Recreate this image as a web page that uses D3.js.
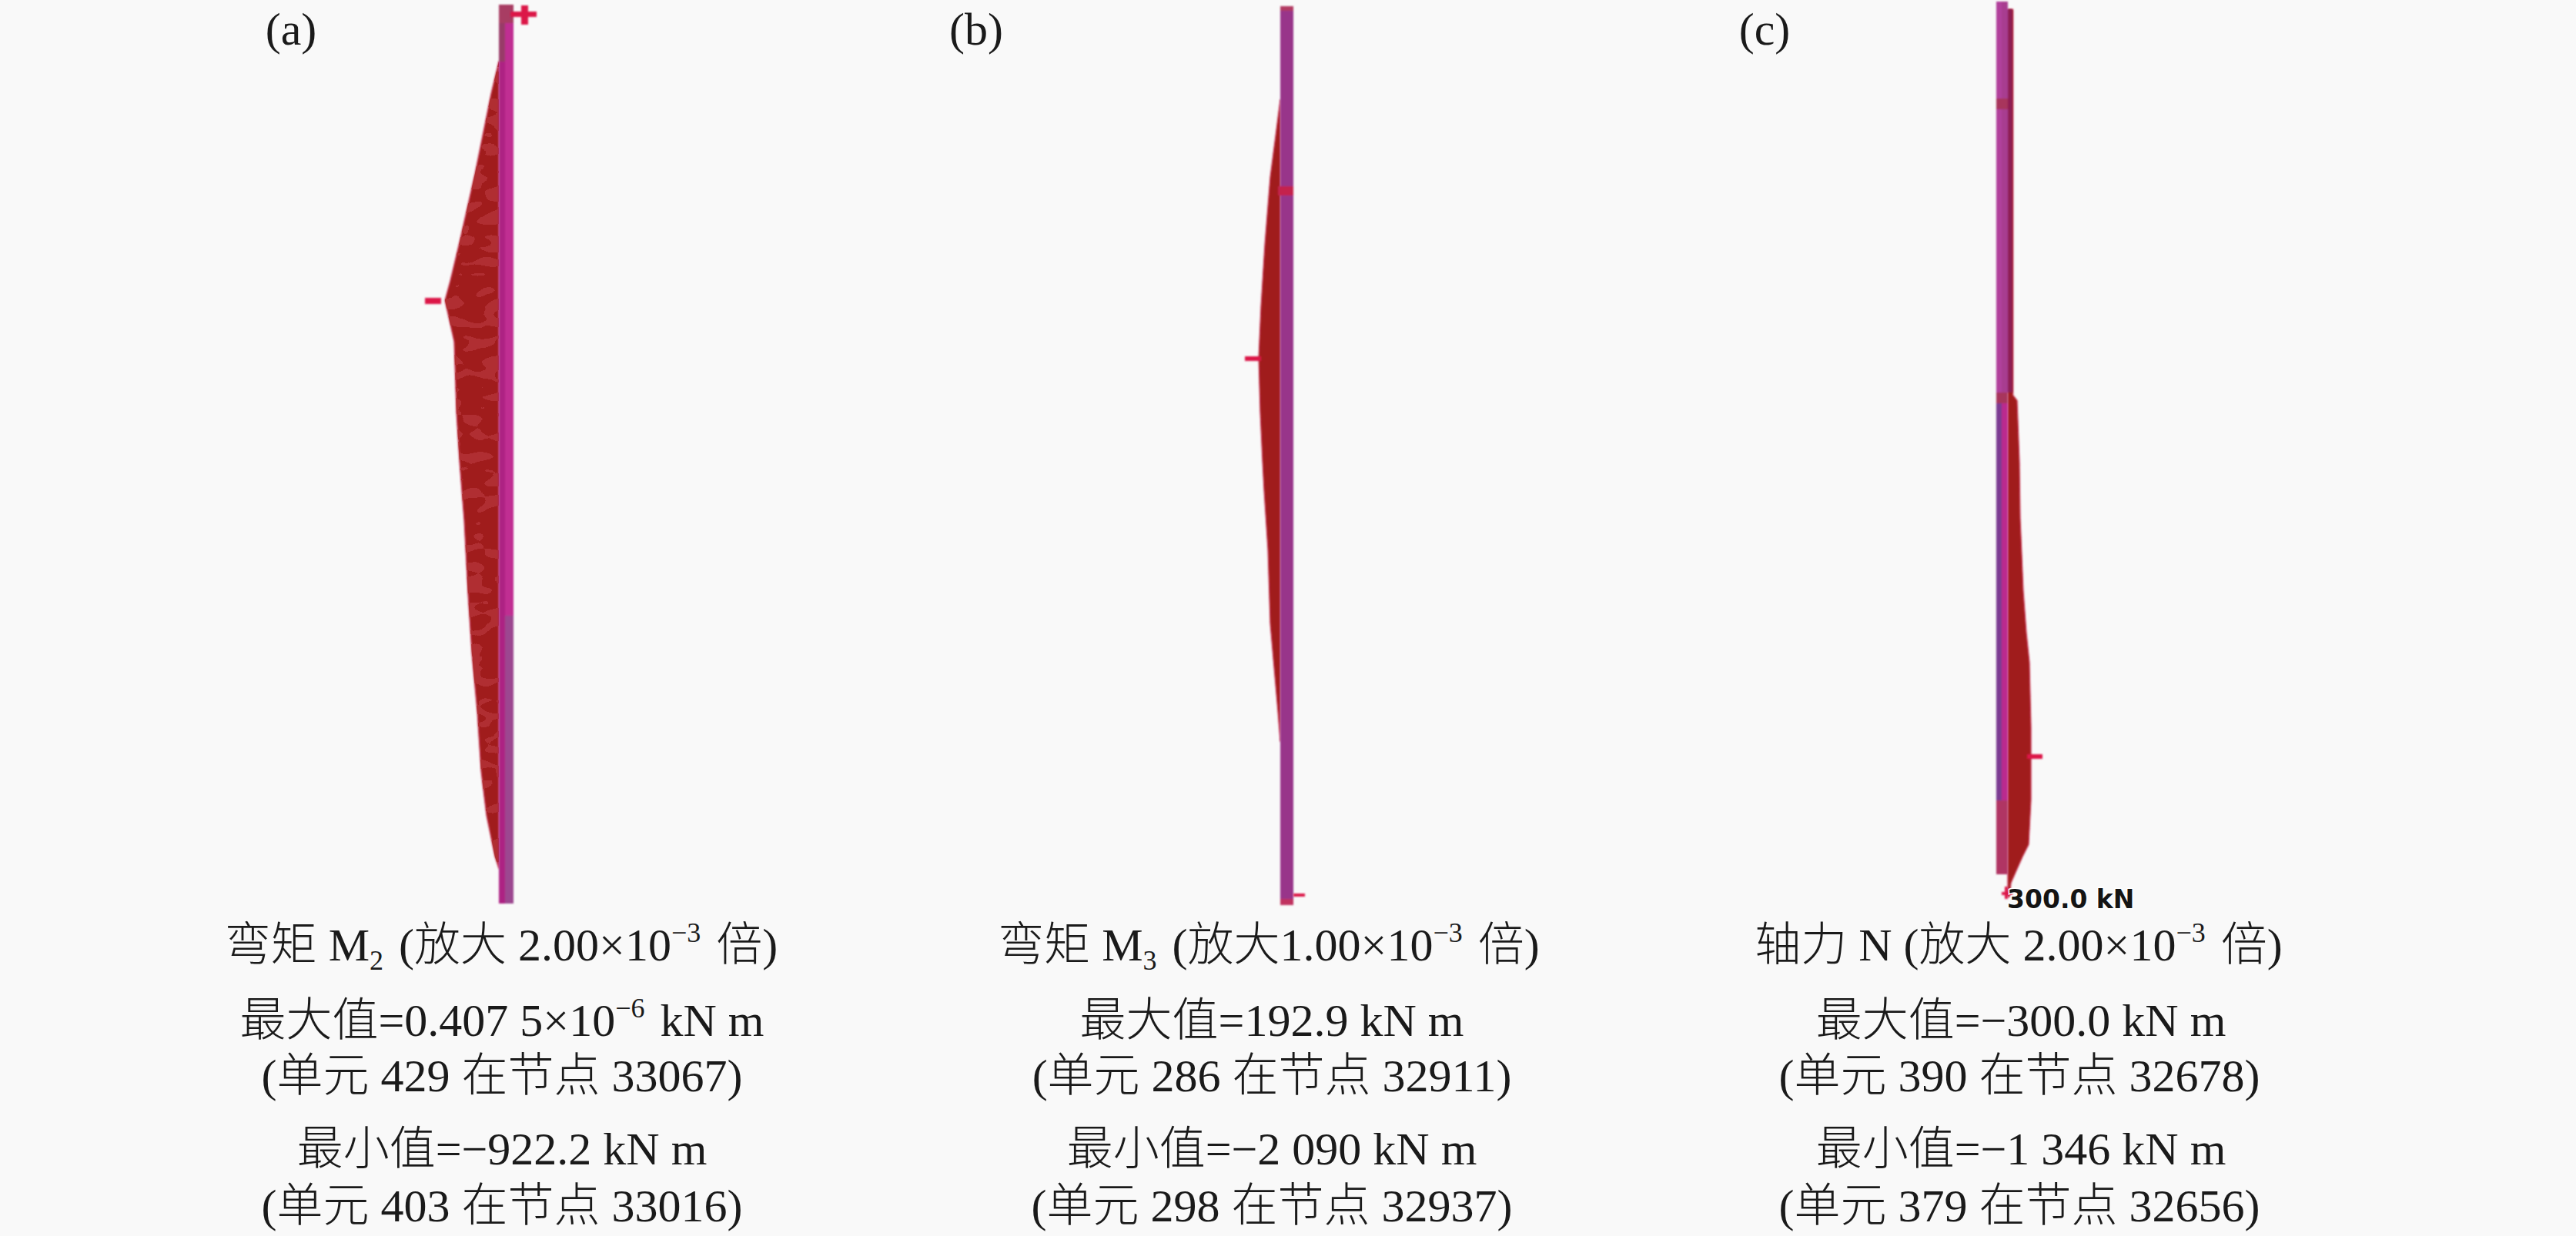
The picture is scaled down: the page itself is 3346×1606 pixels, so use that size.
<!DOCTYPE html>
<html><head><meta charset="utf-8">
<script src="https://cdn.jsdelivr.net/npm/d3@7"></script>
<style>html,body{margin:0;padding:0;background:#f9f9f9}svg{display:block}
text{font-family:"Liberation Serif","Noto Sans CJK SC",serif;fill:#1a1a1a}</style>
</head><body>
<script>
// station = % of member length from the top; value in the member's result unit
const stationsA=[6.3,9.9,18.8,26.4,30.7,32.9,37.5,45.4,50.9,57.4,65.6,72.2,78.7,85.3,90.2,94.8,96.1];
const valuesA=[0,-132,-408,-672,-830,-922.2,-764,-725,-672,-593,-527,-461,-369,-303,-211,-66,0];
const stationsB=[10.4,14.4,19.0,26.5,33.4,39.1,45.2,50.7,53.9,60.5,68.7,73.6,78.5,81.8];
const valuesB=[0,-448,-970,-1493,-1866,-2090,-1940,-1716,-1567,-1194,-970,-597,-224,0];
const stationsC=[0.9,45.1,45.7,52.7,59.2,67.5,72.3,75.7,83.1,91.5,96.6,98.0,100,101,102.6];
const valuesC=[-300,-300,-538,-673,-718,-897,-1077,-1256,-1346,-1346,-1211,-853,-404,-180,-90];
const panelLabels=["(a)","(b)","(c)"];
const captionsA=["弯矩 M_2 (放大 2.00×10^−3 倍)","最大值=0.407 5×10^−6 kN m","(单元 429 在节点 33067)","最小值=−922.2 kN m","(单元 403 在节点 33016)"];
const captionsB=["弯矩 M_3 (放大1.00×10^−3 倍)","最大值=192.9 kN m","(单元 286 在节点 32911)","最小值=−2 090 kN m","(单元 298 在节点 32937)"];
const captionsC=["轴力 N (放大 2.00×10^−3 倍)","最大值=−300.0 kN m","(单元 390 在节点 32678)","最小值=−1 346 kN m","(单元 379 在节点 32656)"];
const peakLabel="300.0 kN";

const W=3346,H=1606;
const svg=d3.select("body").append("svg").attr("width",W).attr("height",H).attr("viewBox",[0,0,W,H]);
svg.append("rect").attr("width",W).attr("height",H).attr("fill","#f9f9f9");
const defs=svg.append("defs");
defs.append("filter").attr("id","soft").attr("x","-30%").attr("y","-5%").attr("width","160%").attr("height","110%")
  .append("feGaussianBlur").attr("stdDeviation",1.1);
const mot=defs.append("filter").attr("id","mottle").attr("filterUnits","userSpaceOnUse").attr("x",0).attr("y",0).attr("width",W).attr("height",H);
mot.append("feTurbulence").attr("type","fractalNoise").attr("baseFrequency","0.035 0.075").attr("numOctaves",1).attr("seed",4).attr("result","n");
mot.append("feColorMatrix").attr("in","n").attr("type","matrix").attr("values","0 0 0 0 0  0 0 0 0 0  0 0 0 0 0  3 0 0 0 -1.3").attr("result","a");
const ct=mot.append("feComponentTransfer").attr("in","a").attr("result","d");
ct.append("feFuncA").attr("type","discrete").attr("tableValues","0 1 1");
mot.append("feComposite").attr("in","SourceGraphic").attr("in2","d").attr("operator","in");

const panels=[
 {st:stationsA,val:valuesA,dom:[-922.2,0],xr:[578,648],yr:[6,1174],col:[648,667],lab:378,cap:captionsA,capX:[651,652,652,652,652],
  strips:[[648,656,6,1174,"#ad2083"],[656,667,6,800,"#c02d92"],[656,667,800,1174,"#9c4690"],[648,667,6,30,"#a83c64"],[648,656,30,80,"#983a68"]],
  mott:1,
  marks:[{x:552,y:387,w:21,h:8},{x:663,y:15,w:34,h:7},{x:677,y:7,w:9,h:25}]},
 {st:stationsB,val:valuesB,dom:[-2090,0],xr:[1635,1663],yr:[8,1176],col:[1663,1680],lab:1268,cap:captionsB,capX:[1648,1652,1652,1652,1652],
  strips:[[1663,1680,8,1176,"#98348a"],[1660,1680,242,254,"#c4204e"],[1663,1680,8,14,"#b23a62"],[1663,1680,1168,1176,"#c0305e"]],
  mott:0,
  marks:[{x:1617,y:463,w:21,h:6},{x:1680,y:1161,w:15,h:4}]},
 {st:stationsC,val:valuesC,dom:[-1346,0],xr:[2638,2608],yr:[2,1136],col:[2593,2608],lab:2292,cap:captionsC,capX:[2622,2625,2623,2625,2623],
  strips:[[2593,2600,2,510,"#b13f9b"],[2600,2608,2,510,"#a83c90"],[2593,2600,510,1040,"#7b3a92"],[2600,2608,510,1040,"#bb2c8e"],[2593,2608,1040,1136,"#b03464"],[2593,2608,128,142,"#a8345c"],[2593,2608,510,524,"#a8345c"],[2608,2614,12,510,"#8e1c52"]],
  mott:0,
  marks:[{x:2633,y:980,w:20,h:6},{x:2600,y:1159,w:14,h:4},{x:2604,y:1152,w:4,h:16}]}
];

panels.forEach((p,k)=>{
  const x=d3.scaleLinear().domain(p.dom).range(p.xr);
  const y=d3.scaleLinear().domain([0,100]).range(p.yr);
  const rows=p.st.map((s,i)=>({s,v:p.val[i]}));
  const area=d3.area().y(d=>y(d.s)).x0(x(0)).x1(d=>x(d.v));
  const g=svg.append("g");
  g.append("path").datum(rows).attr("d",area).attr("fill","#a01c1e").attr("stroke","#c41a3c").attr("stroke-width",1).attr("filter","url(#soft)");
  if(p.mott){
    g.append("g").attr("filter","url(#mottle)").append("path").datum(rows).attr("d",area).attr("fill","#b02f30");
  }
  const cg=g.append("g").attr("filter","url(#soft)");
  cg.selectAll("rect").data(p.strips).join("rect")
    .attr("x",d=>d[0]).attr("width",d=>d[1]-d[0]).attr("y",d=>d[2]).attr("height",d=>d[3]-d[2]).attr("fill",d=>d[4]);
  g.append("g").attr("filter","url(#soft)").selectAll("rect").data(p.marks).join("rect")
    .attr("x",d=>d.x).attr("y",d=>d.y).attr("width",d=>d.w).attr("height",d=>d.h).attr("fill","#dc1446");
  svg.append("text").attr("x",p.lab).attr("y",58).attr("text-anchor","middle").attr("font-size",60).text(panelLabels[k]);
  const base=[1248,1346,1418,1513,1587];
  p.cap.forEach((line,i)=>{
    const t=svg.append("text").attr("x",p.capX[i]).attr("y",base[i]).attr("text-anchor","middle").attr("font-size",60).attr("font-weight",300);
    line.split(/(_\d|\^[−\d]+)/).forEach(seg=>{
      if(!seg) return;
      if(seg[0]==="_"){
        t.append("tspan").attr("font-size",36).attr("dy",12).text(seg.slice(1));
        t.append("tspan").attr("dy",-12).text("\u200a");
      }else if(seg[0]==="^"){
        t.append("tspan").attr("font-size",36).attr("dy",-24).text(seg.slice(1));
        t.append("tspan").attr("dy",24).text("\u200a");
      }else t.append("tspan").text(seg);
    });
  });
});
svg.append("text").attr("x",2607).attr("y",1180).attr("font-size",33)
  .style("font-family","'DejaVu Sans'").style("font-weight","bold").style("fill","#141414")
  .attr("stroke","#fff").attr("stroke-width",3).attr("paint-order","stroke").text(peakLabel);
</script>
</body></html>
